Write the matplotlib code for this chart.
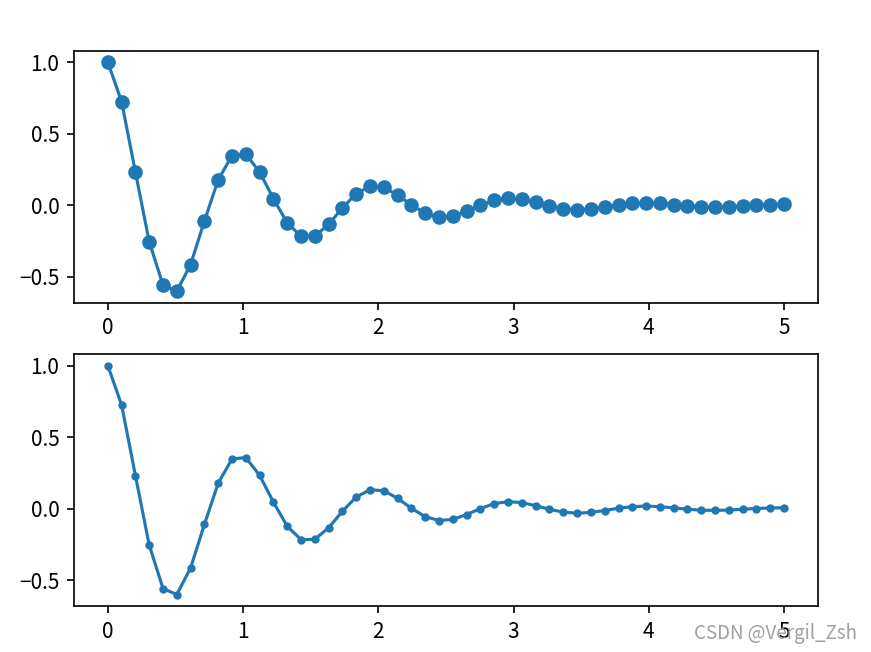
import matplotlib
matplotlib.use("Agg")
import matplotlib.pyplot as plt

plt.rcParams['font.family'] = ['Noto Sans CJK SC', 'DejaVu Sans']

# sample times and damped oscillation values
t = [0.000, 0.102, 0.204, 0.306, 0.408, 0.510, 0.612, 0.714, 0.816, 0.918,
     1.020, 1.122, 1.224, 1.327, 1.429, 1.531, 1.633, 1.735, 1.837, 1.939,
     2.041, 2.143, 2.245, 2.347, 2.449, 2.551, 2.653, 2.755, 2.857, 2.959,
     3.061, 3.163, 3.265, 3.367, 3.469, 3.571, 3.673, 3.776, 3.878, 3.980,
     4.082, 4.184, 4.286, 4.388, 4.490, 4.592, 4.694, 4.796, 4.898, 5.000]
y = [1.000, 0.724, 0.232, -0.254, -0.557, -0.599, -0.413, -0.109, 0.179, 0.348,
     0.358, 0.234, 0.047, -0.123, -0.216, -0.213, -0.132, -0.017, 0.083, 0.133,
     0.126, 0.073, 0.003, -0.055, -0.082, -0.074, -0.040, 0.002, 0.036, 0.050,
     0.043, 0.022, -0.004, -0.023, -0.031, -0.025, -0.012, 0.004, 0.015, 0.019,
     0.015, 0.006, -0.003, -0.010, -0.011, -0.009, -0.003, 0.002, 0.006, 0.007]

fig, (ax1, ax2) = plt.subplots(2, 1, figsize=(8.71 / 1.5, 6.52 / 1.5), dpi=150)
fig.subplots_adjust(left=0.085, right=0.939, top=0.922, bottom=0.0706, hspace=0.205)

ax1.plot(t, y, 'o-')
ax2.plot(t, y, '.-')

fig.text(857 / 871, 1 - 633 / 652, 'CSDN @Vergil_Zsh', ha='right', va='center',
         fontsize=9, color='#a0a0a0')

fig.savefig('out.png', dpi=150)
